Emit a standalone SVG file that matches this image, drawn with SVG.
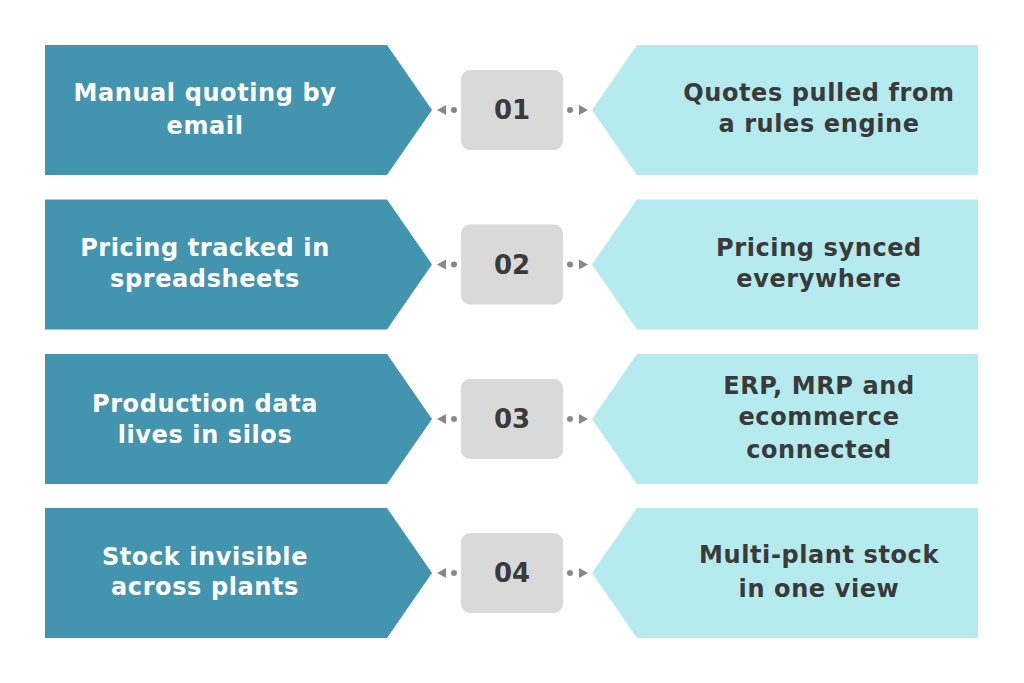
<svg xmlns="http://www.w3.org/2000/svg" width="1024" height="683" viewBox="0 0 1024 683">
<defs>
<style>
.l{fill:#4394ae}.r{fill:#b5ebee}.b{fill:#d9d9d9}
text{font-family:"DejaVu Sans",sans-serif;font-weight:bold;font-size:24px;letter-spacing:0.6px;text-anchor:middle}
.lt{fill:#fff}.rt{fill:#3a3a3a}.n{fill:#3a3a3a;font-size:26px;letter-spacing:0}
.c{fill:#888}
</style>
<g id="row" >
<polygon class="l" points="45,0 387,0 432,65 387,130 45,130"/>
<polygon class="r" points="637,0 978,0 978,130 637,130 592,65"/>
<rect class="b" x="461" y="25" width="102" height="80" rx="9"/>
</g>
<g id="conn">
<circle class="c" cx="454" cy="65" r="3"/><polygon class="c" points="437,65 446,60 446,70"/>
<circle class="c" cx="570" cy="65" r="3"/><polygon class="c" points="588,65 579,60 579,70"/>
</g>
</defs>
<rect width="1024" height="683" fill="#fff"/>
<g id="node1" transform="translate(0,45)"><use href="#row"/><text class="n" x="512" y="74">01</text>
<text class="lt" x="205" y="56">Manual quoting by</text><text class="lt" x="205" y="89">email</text>
<text class="rt" x="819" y="56">Quotes pulled from</text><text class="rt" x="819" y="87">a rules engine</text></g>
<g id="node2" transform="translate(0,199.5)"><use href="#row"/><text class="n" x="512" y="74">02</text>
<text class="lt" x="205" y="56">Pricing tracked in</text><text class="lt" x="205" y="87">spreadsheets</text>
<text class="rt" x="819" y="56">Pricing synced</text><text class="rt" x="819" y="87">everywhere</text></g>
<g id="node3" transform="translate(0,354)"><use href="#row"/><text class="n" x="512" y="74">03</text>
<text class="lt" x="205" y="58">Production data</text><text class="lt" x="205" y="89">lives in silos</text>
<text class="rt" x="819" y="40">ERP, MRP and</text><text class="rt" x="819" y="71">ecommerce</text><text class="rt" x="819" y="104">connected</text></g>
<g id="node4" transform="translate(0,508)"><use href="#row"/><text class="n" x="512" y="74">04</text>
<text class="lt" x="205" y="57">Stock invisible</text><text class="lt" x="205" y="87">across plants</text>
<text class="rt" x="819" y="55">Multi-plant stock</text><text class="rt" x="819" y="89">in one view</text></g>
<g id="connectors">
<use href="#conn" y="45"/><use href="#conn" y="199.5"/><use href="#conn" y="354"/><use href="#conn" y="508"/>
</g>
</svg>
